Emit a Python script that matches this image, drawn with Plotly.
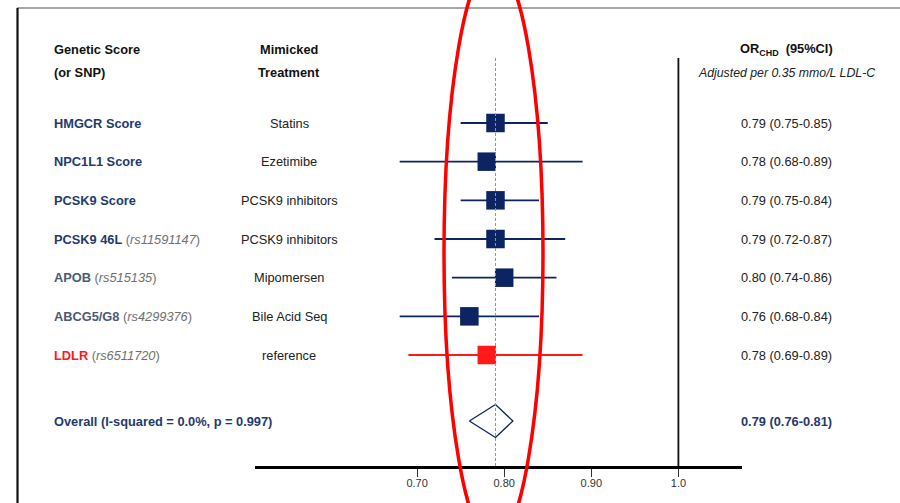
import plotly.graph_objects as go

# ---- data ----
genes = ["HMGCR Score", "NPC1L1 Score", "PCSK9 Score", "PCSK9 46L",
         "APOB", "ABCG5/G8", "LDLR"]
snps = ["", "", "", "rs11591147", "rs515135", "rs4299376", "rs6511720"]
treatments = ["Statins", "Ezetimibe", "PCSK9 inhibitors", "PCSK9 inhibitors",
              "Mipomersen", "Bile Acid Seq", "reference"]
or_est = [0.79, 0.78, 0.79, 0.79, 0.80, 0.76, 0.78]
ci_lo = [0.75, 0.68, 0.75, 0.72, 0.74, 0.68, 0.69]
ci_hi = [0.85, 0.89, 0.84, 0.87, 0.86, 0.84, 0.89]
overall_est, overall_lo, overall_hi = 0.79, 0.76, 0.81
overall_label = "Overall (I-squared = 0.0%, p = 0.997)"
tick_vals = [0.70, 0.80, 0.90, 1.0]
tick_text = ["0.70", "0.80", "0.90", "1.0"]

# ---- styling ----
NAVY = "#0c2461"
LABEL_NAVY = "#1f3a6e"
SLATE = "#4e5a72"
RED = "#ff1a1a"
GREY_TXT = "#6f6f6f"
FONT = "Arial, Liberation Sans, sans-serif"
FS = 12.8
label_colors = [LABEL_NAVY, LABEL_NAVY, LABEL_NAVY, LABEL_NAVY, SLATE, SLATE, RED]
marker_colors = [NAVY] * 6 + [RED]

W, H = 900, 503
B = 37                      # bottom margin (axis line sits at y = 466 px)
PH = H - B                  # plot-area height in px
ROW0, ROWSTEP = 123.0, 38.67
OVERALL_ROW = (421 - ROW0) / ROWSTEP


def py(p):                  # pixel row -> paper y
    return 1 - p / PH


rows = list(range(len(genes)))

fig = go.Figure()

# confidence intervals + squares (navy rows, then the red reference row)
for idx_set, col in (([i for i in rows if marker_colors[i] == NAVY], NAVY),
                     ([i for i in rows if marker_colors[i] == RED], RED)):
    fig.add_trace(go.Scatter(
        x=[or_est[i] for i in idx_set],
        y=[rows[i] for i in idx_set],
        mode="markers",
        marker=dict(symbol="square", size=18.5, color=col, line=dict(width=0)),
        error_x=dict(type="data", symmetric=False,
                     array=[ci_hi[i] - or_est[i] for i in idx_set],
                     arrayminus=[or_est[i] - ci_lo[i] for i in idx_set],
                     color=col, thickness=1.8, width=0),
        hoverinfo="skip", showlegend=False))

# pooled estimate diamond
dh = 16.5 / ROWSTEP
fig.add_trace(go.Scatter(
    x=[overall_lo, overall_est, overall_hi, overall_est, overall_lo],
    y=[OVERALL_ROW, OVERALL_ROW - dh, OVERALL_ROW, OVERALL_ROW + dh, OVERALL_ROW],
    mode="lines", fill="toself", fillcolor="white",
    line=dict(color=NAVY, width=1.3), hoverinfo="skip", showlegend=False))

shapes = [
    # null line at OR = 1
    dict(type="line", xref="x", yref="paper", x0=1.0, x1=1.0,
         y0=0, y1=py(58), line=dict(color="#111", width=1.8)),
    # dotted line at pooled estimate
    dict(type="line", xref="x", yref="paper", x0=overall_est, x1=overall_est,
         y0=0, y1=py(58), line=dict(color="#6f9fd2", width=1, dash="3px,2px")),
    # frame lines
    dict(type="line", xref="paper", yref="paper", x0=17 / W, x1=1.0,
         y0=py(8), y1=py(8), line=dict(color="#8a8a8a", width=1.5)),
    dict(type="line", xref="paper", yref="paper", x0=17.5 / W, x1=17.5 / W,
         y0=py(8), y1=py(H + 5), line=dict(color="#111", width=2.2)),
    # highlighted region
    dict(type="circle", xref="paper", yref="paper",
         x0=444 / W, x1=543 / W, y0=py(543), y1=py(-37),
         line=dict(color="#ff0000", width=3.5)),
]

ann = []


def text(x, y, s, anchor="center", yref="paper", size=FS, color="#222"):
    ann.append(dict(x=x, y=y, xref="paper", yref=yref, text=s, showarrow=False,
                    xanchor=anchor, yanchor="middle",
                    font=dict(family=FONT, size=size, color=color)))


COL1, COL2, COL3 = 52 / W, 289 / W, 786 / W

# headers
text(COL1, py(50), "<b>Genetic Score</b>", "left", color="#111")
text(COL1, py(72), "<b>(or SNP)</b>", "left", color="#111")
text(COL2, py(50), "<b>Mimicked</b>", color="#111")
text(COL2, py(72), "<b>Treatment</b>", color="#111")
text(COL3, py(50), "<b>OR<sub>CHD</sub>  (95%CI)</b>", color="#111")
text(COL3, py(73), "<i>Adjusted per 0.35 mmo/L LDL-C</i>", size=12.3, color="#222")

# rows
for i in rows:
    lab = f"<b>{genes[i]}</b>"
    if snps[i]:
        lab += (f" <span style='color:{GREY_TXT}'>(<i>{snps[i]}</i>)</span>")
    text(COL1, rows[i], lab, "left", yref="y", color=label_colors[i])
    text(COL2, rows[i], treatments[i], yref="y")
    text(COL3, rows[i], f"{or_est[i]:.2f} ({ci_lo[i]:.2f}-{ci_hi[i]:.2f})", yref="y")

text(COL1, OVERALL_ROW, f"<b>{overall_label}</b>", "left", yref="y", color=LABEL_NAVY)
text(COL3, OVERALL_ROW,
     f"<b>{overall_est:.2f} ({overall_lo:.2f}-{overall_hi:.2f})</b>",
     yref="y", color=LABEL_NAVY)

# x scale: ~871 px per unit OR, 0.85 at 547.75 px
PX_PER_UNIT, X_REF, P_REF = 871.0, 0.85, 547.75
ax_l, ax_r = 255.0, 742.0
xr = [X_REF + (ax_l - P_REF) / PX_PER_UNIT, X_REF + (ax_r - P_REF) / PX_PER_UNIT]
yr = [(PH - ROW0) / ROWSTEP, (0 - ROW0) / ROWSTEP]

fig.update_layout(
    width=W, height=H,
    margin=dict(l=0, r=0, t=0, b=B),
    plot_bgcolor="white", paper_bgcolor="white",
    shapes=shapes, annotations=ann,
    xaxis=dict(domain=[ax_l / W, ax_r / W], range=xr,
               tickvals=tick_vals, ticktext=tick_text,
               showline=True, linecolor="black", linewidth=3,
               ticks="outside", ticklen=8, tickwidth=1.3, tickcolor="#333",
               ticklabelstandoff=-3,
               tickfont=dict(family=FONT, size=11, color="#333"),
               showgrid=False, zeroline=False, fixedrange=True),
    yaxis=dict(range=yr, visible=False, showgrid=False, zeroline=False,
               fixedrange=True),
)

fig.write_html("out.html")
